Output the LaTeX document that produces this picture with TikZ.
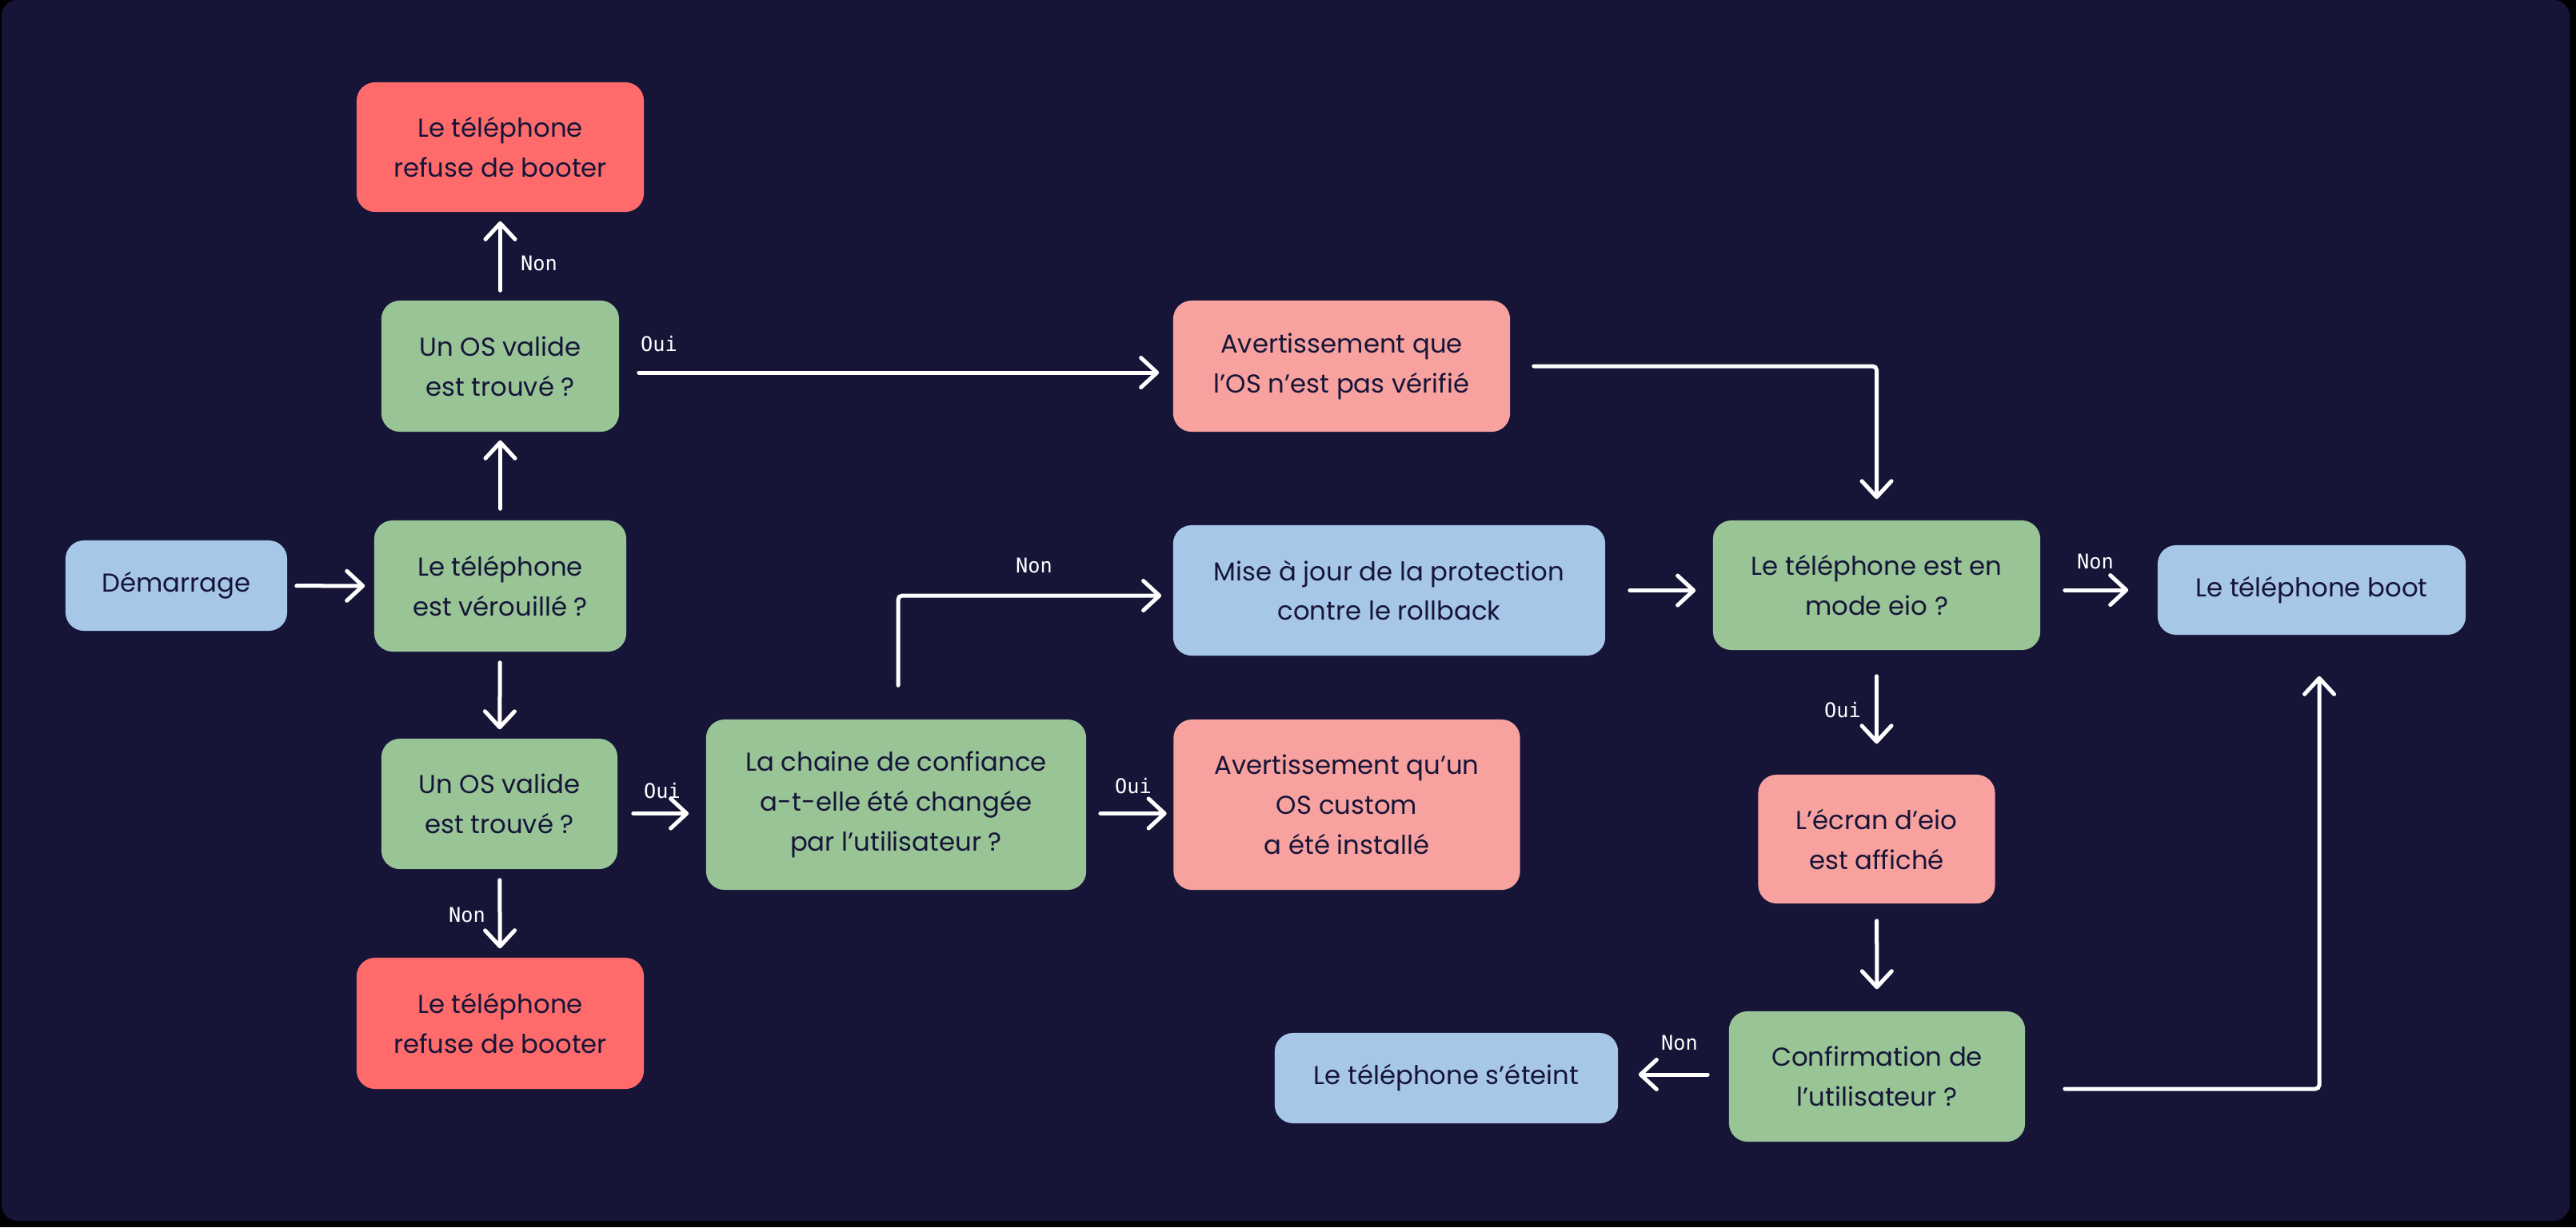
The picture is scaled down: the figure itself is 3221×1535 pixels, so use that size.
\documentclass[tikz,border=0pt]{standalone}
\usepackage{fontspec}
\setmainfont{Poppins}
\newfontfamily\lblfont{DejaVu Sans Mono}
\usetikzlibrary{arrows.meta,calc}
\definecolor{bgnavy}{RGB}{22,21,56}
\definecolor{txtdark}{RGB}{22,21,56}
\definecolor{boxgreen}{RGB}{152,196,150}
\definecolor{boxred}{RGB}{255,107,107}
\definecolor{boxpink}{RGB}{248,162,160}
\definecolor{boxblue}{RGB}{167,199,232}
\begin{document}
\begin{tikzpicture}[x=0.01cm,y=-0.01cm,
  box/.style={rounded corners=0.23cm, inner sep=0pt, align=center,
    font=\fontsize{9.2}{14.2}\selectfont, text=txtdark},
  gbox/.style={box, fill=boxgreen},
  rbox/.style={box, fill=boxred},
  pbox/.style={box, fill=boxpink},
  bbox/.style={box, fill=boxblue},
  arr/.style={draw=white, line width=0.05cm, line cap=round,
    -{Straight Barb[length=0.2cm,width=0.37cm,round]}},
  lbl/.style={font=\lblfont\fontsize{7.2}{8}\selectfont, text=white, inner sep=0pt}
]
\useasboundingbox (0,0) rectangle (3221,1535);
\fill[black] (0,0) rectangle (3221,1535);
\fill[bgnavy, rounded corners=0.2cm] (2,0) rectangle (3213,1527);

% nodes
\node[rbox, minimum width=3.59cm, minimum height=1.62cm] (refuse1) at (625.5,184) {Le téléphone\\refuse de booter};
\node[gbox, minimum width=2.97cm, minimum height=1.64cm] (os1) at (625.5,458) {Un OS valide\\est trouvé ?};
\node[gbox, minimum width=3.15cm, minimum height=1.64cm] (verr) at (625.5,733) {Le téléphone\\est vérouillé ?};
\node[bbox, minimum width=2.77cm, minimum height=1.13cm] (dem) at (220.5,732.5) {Démarrage};
\node[gbox, minimum width=2.95cm, minimum height=1.63cm] (os2) at (624.5,1005.5) {Un OS valide\\est trouvé ?};
\node[rbox, minimum width=3.59cm, minimum height=1.64cm] (refuse2) at (625.5,1280) {Le téléphone\\refuse de booter};
\node[gbox, minimum width=4.75cm, minimum height=2.13cm] (chaine) at (1120.5,1006.5) {La chaine de confiance\\a-t-elle été changée\\par l’utilisateur ?};
\node[pbox, minimum width=4.21cm, minimum height=1.64cm] (avert1) at (1677.5,458) {Avertissement que\\l’OS n’est pas vérifié};
\node[bbox, minimum width=5.40cm, minimum height=1.63cm] (mise) at (1737,738.5) {Mise à jour de la protection\\contre le rollback};
\node[pbox, minimum width=4.33cm, minimum height=2.13cm] (avert2) at (1684,1006.5) {Avertissement qu’un\\OS custom\\a été installé};
\node[gbox, minimum width=4.09cm, minimum height=1.62cm] (eio) at (2346.5,732) {Le téléphone est en\\mode eio ?};
\node[bbox, minimum width=3.85cm, minimum height=1.12cm] (boot) at (2890.5,738) {Le téléphone boot};
\node[pbox, minimum width=2.96cm, minimum height=1.61cm] (ecran) at (2346.5,1049.5) {L’écran d’eio\\est affiché};
\node[gbox, minimum width=3.70cm, minimum height=1.63cm] (confirm) at (2347,1346.5) {Confirmation de\\l’utilisateur ?};
\node[bbox, minimum width=4.29cm, minimum height=1.13cm] (eteint) at (1808.5,1348.5) {Le téléphone s’éteint};

% labels
\node[lbl] (l1) at (674,329) {Non};
\node[lbl] (l2) at (824,430) {Oui};
\node[lbl] (l3) at (584,1144) {Non};
\node[lbl] (l4) at (828,989) {Oui};
\node[lbl] (l5) at (1417,983) {Oui};
\node[lbl] (l6) at (1293,707) {Non};
\node[lbl] (l7) at (2620,702) {Non};
\node[lbl] (l8) at (2304,888) {Oui};
\node[lbl] (l9) at (2100,1304) {Non};

% connectors
\draw[arr, shorten <=0.11cm, shorten >=0.11cm] (dem) -- (verr);
\draw[arr, shorten <=0.14cm, shorten >=0.10cm] (verr) -- (os1);
\draw[arr, shorten <=0.12cm, shorten >=0.11cm] (os1) -- (refuse1);
\draw[arr, shorten <=0.13cm, shorten >=0.11cm] (verr) -- (os2);
\draw[arr, shorten <=0.13cm, shorten >=0.11cm] (os2) -- (refuse2);
\draw[arr, shorten <=0.19cm, shorten >=0.21cm] ($(os2.east)+(0,12)$) -- ($(chaine.west)+(0,11)$);
\draw[arr, shorten <=0.17cm, shorten >=0.08cm] ($(chaine.east)+(0,11)$) -- ($(avert2.west)+(0,11)$);
\draw[arr, rounded corners=0.05cm, shorten <=0.42cm, shorten >=0.14cm] ($(chaine.north)+(2.5,0)$) |- ($(mise.west)+(0,6.5)$);
\draw[arr, shorten <=0.24cm, shorten >=0.17cm] ($(os1.east)+(0,8)$) -- ($(avert1.west)+(0,8)$);
\draw[arr, rounded corners=0.05cm, shorten <=0.29cm, shorten >=0.26cm] (avert1.east) -| (eio.north);
\draw[arr, shorten <=0.30cm, shorten >=0.21cm] (mise.east) -- (mise.east -| eio.west);
\draw[arr, shorten <=0.30cm, shorten >=0.36cm] (eio.east |- boot.west) -- (boot.west);
\draw[arr, shorten <=0.32cm, shorten >=0.38cm] (eio) -- (ecran);
\draw[arr, shorten <=0.21cm, shorten >=0.27cm] (ecran) -- (confirm);
\draw[arr, shorten <=0.26cm, shorten >=0.25cm] ($(confirm.west)+(0,-2.5)$) -- ($(confirm.west -| eteint.east)+(0,-2.5)$);
\draw[arr, rounded corners=0.05cm, shorten <=0.49cm, shorten >=0.51cm] ($(confirm.east)+(0,15.5)$) -| ($(boot.south)+(9.5,0)$);
\end{tikzpicture}
\end{document}
